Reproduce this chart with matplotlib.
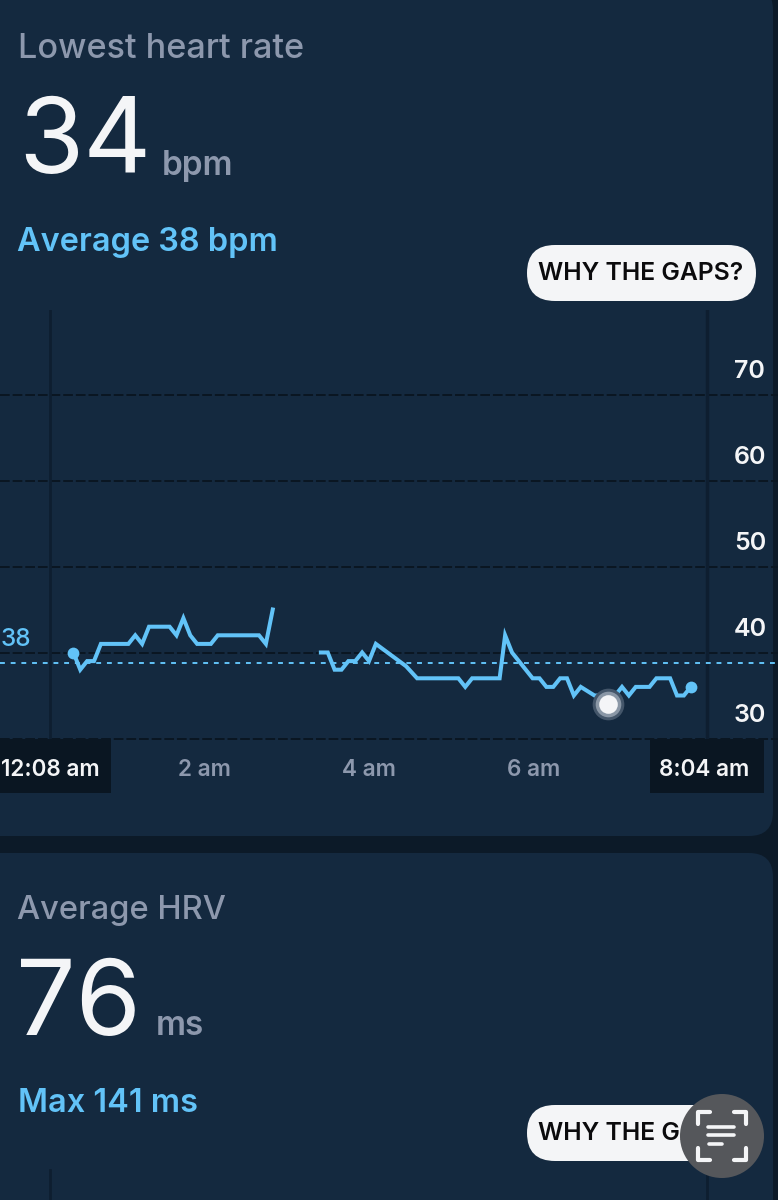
import matplotlib

matplotlib.use("Agg")

import matplotlib.pyplot as plt
import numpy as np
from matplotlib.patches import Circle, FancyBboxPatch, Rectangle

# minutes after midnight, one list per block of readings
TIMES_A = [25, 30, 35, 40, 45, 65, 70, 75, 80, 95, 100, 105, 110, 115, 125, 130, 160, 165, 170]
BPM_A = [40, 38, 39, 39, 41, 41, 42, 41, 43, 43, 42, 44, 42, 41, 41, 42, 42, 41, 45]
TIMES_B = [205, 210, 215, 220, 225, 230, 235, 240, 245, 267, 275, 305, 310, 315, 335, 339, 344,
           349, 354, 359, 364, 369, 374, 379, 384, 389, 394, 399, 404, 409, 414, 419, 424, 429,
           434, 444, 449, 459, 464, 469, 474]
BPM_B = [40, 40, 38, 38, 39, 39, 40, 39, 41, 38.4, 37, 37, 36, 37, 37, 42, 40,
         39, 38, 37, 37, 36, 36, 37, 37, 35, 36, 35.5, 35, 35, 34, 35, 36, 35,
         36, 36, 37, 37, 35, 35, 36]
AVERAGE_LINE = 38.8
AVERAGE_LABEL = "38"
GRID_VALUES = [30, 40, 50, 60, 70]
TICK_MINUTES = [8, 120, 240, 360, 484]
TICK_LABELS = ["12:08 am", "2 am", "4 am", "6 am", "8:04 am"]

PANEL = "#14293F"
GAP = "#0C1A28"
DARK = "#0A1622"
RULE = "#0E1E30"
BLUE = "#62C3F8"
GREY = "#8D98AD"
WHITE = "#F4F5F7"
FONT = "Inter"


def rounded(ax, x, y, w, h, radius, color, zorder=1):
    patch = FancyBboxPatch((x, y), w, h, boxstyle=f"round,pad=0,rounding_size={radius}",
                           facecolor=color, edgecolor="none", zorder=zorder)
    ax.add_patch(patch)


fig = plt.figure(figsize=(7.78, 12), dpi=100, facecolor=GAP)

# page furniture is laid out in screen pixels
page = fig.add_axes([0, 0, 1, 1])
page.set_xlim(0, 778)
page.set_ylim(1200, 0)
page.axis("off")

rounded(page, -40, -14, 813, 850, 24, PANEL)
rounded(page, -40, 853, 813, 400, 24, PANEL)
page.add_patch(Rectangle((0, 739), 111, 54, facecolor=DARK, edgecolor="none", zorder=2))
page.add_patch(Rectangle((650, 739), 114, 54, facecolor=DARK, edgecolor="none", zorder=2))

page.text(18, 49, "Lowest heart rate", color=GREY, fontsize=24.6, family=FONT, weight="medium", va="center")
page.text(18, 146, "34", color=WHITE, fontsize=76, family=FONT, weight="normal", va="center")
page.text(162, 166, "bpm", color=GREY, fontsize=24, family=FONT, weight="semibold", va="center")
page.text(17, 243, "Average 38 bpm", color=BLUE, fontsize=23.4, family=FONT, weight="semibold", va="center")

page.text(17, 910, "Average HRV", color=GREY, fontsize=23.5, family=FONT, weight="medium", va="center")
page.text(16, 1008, "76", color=WHITE, fontsize=76, family=FONT, weight="normal", va="center")
page.text(156, 1026, "ms", color=GREY, fontsize=24, family=FONT, weight="semibold", va="center")
page.text(18, 1103, "Max 141 ms", color=BLUE, fontsize=23.4, family=FONT, weight="semibold", va="center")

rounded(page, 527, 245, 229, 56, 28, WHITE, zorder=3)
page.text(641, 274, "WHY THE GAPS?", color="#0B0B0D", fontsize=17.8, family=FONT, weight="semibold",
          ha="center", va="center", zorder=4)
rounded(page, 527, 1105, 229, 56, 28, WHITE, zorder=3)
page.text(641, 1134, "WHY THE GAPS?", color="#0B0B0D", fontsize=17.8, family=FONT, weight="semibold",
          ha="center", va="center", zorder=4)

for x in (50, 707):
    page.plot([x, x], [1170, 1200], color=RULE, lw=2, zorder=2)

# floating scan button
page.add_patch(Circle((722, 1136), 42, facecolor="#55575B", edgecolor="none", zorder=5))
for sx, sy in ((-1, -1), (1, -1), (-1, 1), (1, 1)):
    page.plot([722 + sx * 12, 722 + sx * 24, 722 + sx * 24], [1136 + sy * 24, 1136 + sy * 24, 1136 + sy * 12],
              color=WHITE, lw=3, solid_capstyle="round", solid_joinstyle="round", zorder=6)
for left, right, y in ((708, 734, 1127), (708, 734, 1135), (709, 722, 1144)):
    page.plot([left, right], [y, y], color=WHITE, lw=2.6, solid_capstyle="round", zorder=6)

# chart axes: 1.375 px per minute, 8.6 px per bpm
ax = fig.add_axes([0, (1200 - 738.5) / 1200, 1, 428.5 / 1200], facecolor="none")
ax.set_xlim(120 - 204 / 1.375, 120 + (778 - 204) / 1.375)
ax.set_ylim(30, 30 + 428.5 / 8.6)
for side in ax.spines.values():
    side.set_visible(False)

ax.set_yticks([])
ax.set_xticks(TICK_MINUTES, TICK_LABELS, family=FONT, weight="semibold", fontsize=16.2, color=GREY)
ax.tick_params(axis="x", length=0, pad=15)
for label in (ax.get_xticklabels()[0], ax.get_xticklabels()[-1]):
    label.set_color(WHITE)
    label.set_zorder(5)

for value in GRID_VALUES:
    ax.axhline(value, color=DARK, lw=1.4, ls=(0, (5, 1.5)), zorder=1, clip_on=False)
    ax.annotate(str(value), (1, value), xycoords=("axes fraction", "data"), xytext=(-44, 23),
                textcoords="offset pixels", color=WHITE, fontsize=18, family=FONT, weight="semibold",
                va="center")

ax.axvline(TICK_MINUTES[0], color=RULE, lw=2, zorder=1)
ax.axvline(TICK_MINUTES[-1] + 2, color=RULE, lw=2.5, zorder=1)

ax.axhline(AVERAGE_LINE, color=BLUE, lw=1.4, ls=(0, (2.5, 3)), zorder=2)
ax.annotate(AVERAGE_LABEL, (0, AVERAGE_LINE), xycoords=("axes fraction", "data"), xytext=(1, 23),
            textcoords="offset pixels", color=BLUE, fontsize=17.5, family=FONT, weight="medium", va="center")

ax.plot(TIMES_A, BPM_A, color=BLUE, lw=2.9, zorder=3, solid_joinstyle="miter")
ax.plot(TIMES_B, BPM_B, color=BLUE, lw=2.9, zorder=3, solid_joinstyle="miter")

ax.scatter([TIMES_A[0], TIMES_B[-1]], [BPM_A[0], BPM_B[-1]], s=72, color=BLUE, linewidths=0, zorder=4)

low = int(np.argmin(BPM_B))
ax.scatter(TIMES_B[low], BPM_B[low], s=520, color="#44566A", linewidths=0, zorder=4)
ax.scatter(TIMES_B[low], BPM_B[low], s=340, color="#8A97A6", linewidths=0, zorder=5)
ax.scatter(TIMES_B[low], BPM_B[low], s=180, color=WHITE, linewidths=0, zorder=6)

fig.savefig("out.png", dpi=100)
